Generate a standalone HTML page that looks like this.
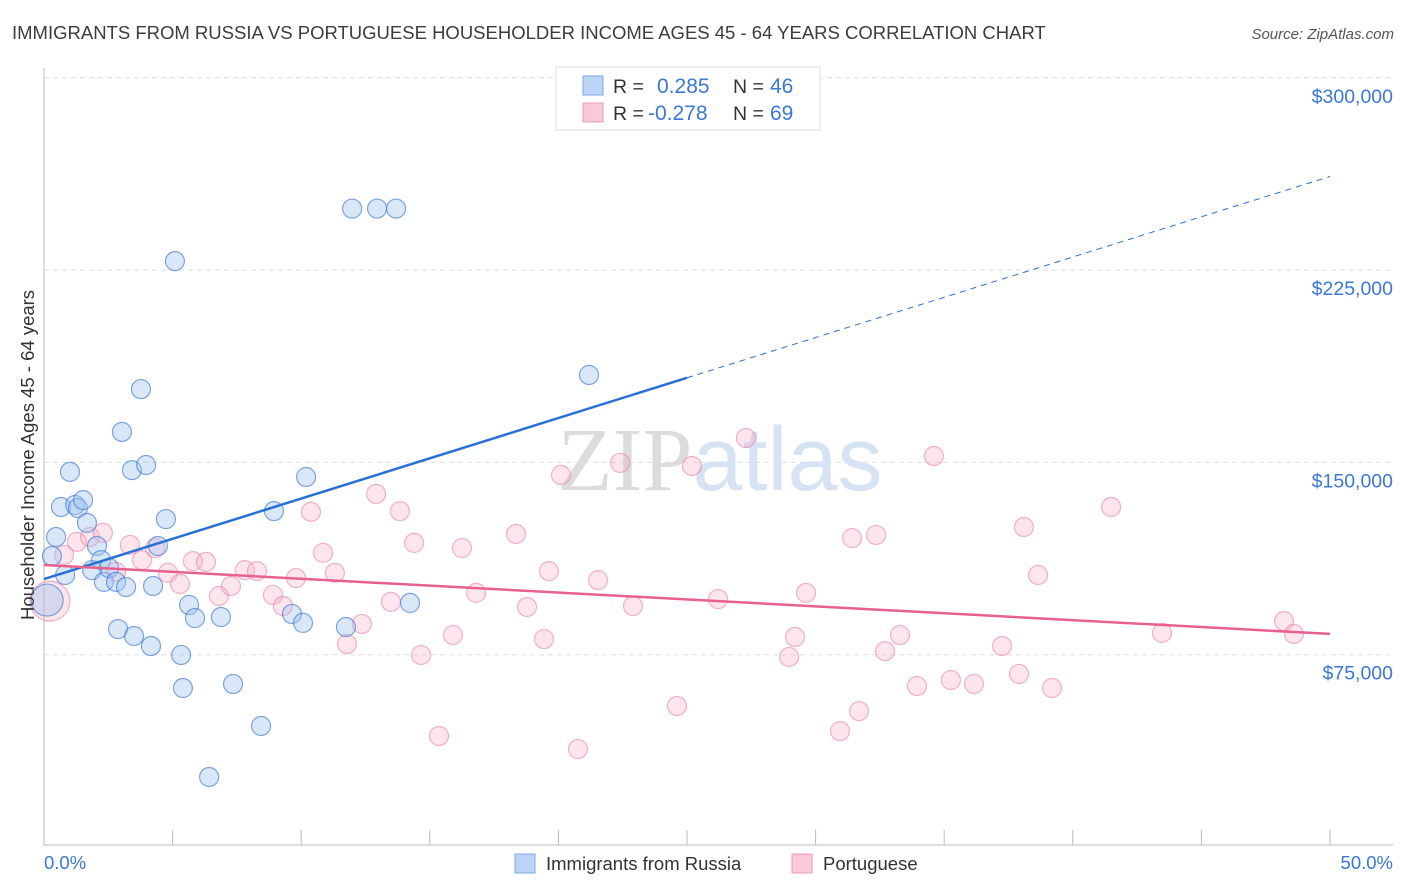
<!DOCTYPE html>
<html><head><meta charset="utf-8"><style>
body{margin:0;background:#fff;font-family:"Liberation Sans",sans-serif;}
svg{display:block}
</style></head><body>
<svg id="chart" width="1406" height="892" viewBox="0 0 1406 892" xmlns="http://www.w3.org/2000/svg">
<text x="12" y="39" font-size="18.5" fill="#3c3c3c">IMMIGRANTS FROM RUSSIA VS PORTUGUESE HOUSEHOLDER INCOME AGES 45 - 64 YEARS CORRELATION CHART</text>
<text x="1394" y="39" font-size="15" fill="#555" font-style="italic" text-anchor="end">Source: ZipAtlas.com</text>
<g id="grid"></g>
<text x="720" y="490" font-size="90" text-anchor="middle" fill="#e4e6ea"><tspan font-family="Liberation Serif" fill="#dcdcdc">ZIP</tspan><tspan fill="#d6e3f3">atlas</tspan></text>
<g id="points"></g>
<g id="lines"></g>
<text transform="translate(34,455) rotate(-90)" font-size="18.5" fill="#333" text-anchor="middle">Householder Income Ages 45 - 64 years</text>
<text x="44" y="869" font-size="18.5" fill="#3a78d4">0.0%</text>
<text x="1393" y="869" font-size="18.5" fill="#3a78d4" text-anchor="end">50.0%</text>
<g>
<rect x="556" y="67" width="264" height="63" fill="#fff" stroke="#ddd"/>
<rect x="583" y="76" width="20" height="19" fill="#bcd4f5" stroke="#7aa7e6"/>
<rect x="583" y="103" width="20" height="19" fill="#f9c9d7" stroke="#ec9ab3"/>
<text x="613" y="93" font-size="19.5" fill="#333">R = </text><text x="657" y="93" font-size="21" fill="#3a78d4">0.285</text>
<text x="733" y="93" font-size="19.5" fill="#333">N = </text><text x="770" y="93" font-size="21" fill="#3a78d4">46</text>
<text x="613" y="120" font-size="19.5" fill="#333">R = </text><text x="648" y="120" font-size="21" fill="#3a78d4">-0.278</text>
<text x="733" y="120" font-size="19.5" fill="#333">N = </text><text x="770" y="120" font-size="21" fill="#3a78d4">69</text>
</g>
<g>
<rect x="515" y="854" width="20" height="19" fill="#bcd4f5" stroke="#7aa7e6"/>
<text x="546" y="870" font-size="18.5" fill="#333">Immigrants from Russia</text>
<rect x="792" y="854" width="20" height="19" fill="#f9c9d7" stroke="#ec9ab3"/>
<text x="823" y="870" font-size="18.5" fill="#333">Portuguese</text>
</g>
</svg>
<script>
const yTicks=[75000,150000,225000,300000];
const yTickLabels=["$75,000","$150,000","$225,000","$300,000"];
const xTicks=[0,5,10,15,20,25,30,35,40,45,50];
const russiaX=[0.12,0.31,0.47,0.66,0.82,1.01,1.21,1.32,1.52,1.67,1.87,2.06,2.22,2.33,2.53,2.80,2.88,3.03,3.19,3.42,3.50,3.77,3.97,4.16,4.24,4.43,4.74,5.09,5.33,5.40,5.64,5.87,6.88,7.35,8.44,6.42,8.94,9.64,10.07,10.19,11.74,11.98,12.95,13.69,14.23,21.19];
const russiaY=[96300,113500,120900,132600,106100,146300,133400,132200,135300,126400,108000,117400,111900,103400,108800,103400,85000,161900,101400,147000,82300,178600,149000,78400,101800,117400,127900,228500,74900,62000,94400,89300,89700,63600,47200,27300,131000,90900,87400,144300,85800,249000,249000,249000,95200,184100];
const portX=[0.23,0.78,1.28,1.79,2.29,2.80,3.34,3.81,4.32,4.82,5.29,5.79,6.30,6.80,7.27,7.81,8.28,8.90,9.29,9.80,10.38,10.85,11.31,11.78,12.36,12.91,13.49,13.84,14.39,14.66,15.36,15.90,16.25,16.80,18.35,18.78,19.44,19.63,20.10,20.76,21.54,22.40,22.90,24.61,25.19,26.21,27.29,28.97,29.20,29.63,30.95,31.42,31.69,32.35,32.70,33.28,33.94,34.60,35.26,36.16,37.25,37.91,38.10,38.65,39.19,41.49,43.47,48.21,48.60];
const portY=[95900,113900,119000,120900,122500,107300,117800,111900,116600,106900,102600,111500,111200,97900,101800,108000,107600,98300,94000,104900,130700,114700,106900,79200,87000,137700,95600,131000,118600,74900,43300,82700,116600,99100,122100,93600,81100,107600,145100,38200,104100,149800,94000,55000,148600,96700,159500,74100,81900,99100,45200,120500,53000,121700,76400,82700,62800,152500,65100,63600,78400,67500,124800,106100,62000,132600,83500,88100,83100];
const russiaTrend=[104500,261500];
const portTrend=[110000,83100];
const NS='http://www.w3.org/2000/svg';
function xs(v){return 44+v/50*1286;}
function ys(v){return 847-v*0.002564;}
function mk(tag,attrs,parent){const e=document.createElementNS(NS,tag);for(const k in attrs)e.setAttribute(k,attrs[k]);parent.appendChild(e);return e;}
const grid=document.getElementById('grid');
yTicks.forEach((t,i)=>{
 const l=mk('line',{x1:44,x2:1393,y1:ys(t),y2:ys(t),stroke:'#ddd','stroke-dasharray':'5,4'},grid);
 
 
 const tx=mk('text',{x:1393,y:ys(t)+25,'font-size':19.5,fill:'#3a78d4','text-anchor':'end'},grid);
 tx.textContent=yTickLabels[i];
 
 
});
const ax=mk('line',{x1:44,x2:44,y1:68,y2:845,stroke:'#bbb'},grid);


const bx=mk('line',{x1:44,x2:1393,y1:845,y2:845,stroke:'#bbb'},grid);


xTicks.forEach(t=>{
 const l=mk('line',{x1:xs(t),x2:xs(t),y1:830,y2:845,stroke:'#bbb'},grid);
 
 
});
const pts=document.getElementById('points');
function dot(x,y,r,fill,stroke,name){
 const c=mk('circle',{cx:xs(x),cy:ys(y),r:r,fill:fill,stroke:stroke,'stroke-width':1.2},pts);
 
 
}
portX.forEach((x,i)=>dot(x,portY[i],i===0?20:9.5,'rgba(246,170,195,0.3)','rgba(232,120,155,0.55)','portuguese-point'));
russiaX.forEach((x,i)=>dot(x,russiaY[i],i===0?16:9.5,'rgba(160,195,240,0.4)','rgba(60,120,210,0.65)','russia-point'));
const lines=document.getElementById('lines');
const split=25;
const ry=x=>russiaTrend[0]+(russiaTrend[1]-russiaTrend[0])*x/50;
const py=x=>portTrend[0]+(portTrend[1]-portTrend[0])*x/50;
const l1=mk('line',{x1:xs(0),y1:ys(ry(0)),x2:xs(split),y2:ys(ry(split)),stroke:'#2a6fd6','stroke-width':2.5},lines);


const l2=mk('line',{x1:xs(split),y1:ys(ry(split)),x2:xs(50),y2:ys(ry(50)),stroke:'#2a6fd6','stroke-width':1,'stroke-dasharray':'6,5'},lines);


const l3=mk('line',{x1:xs(0),y1:ys(py(0)),x2:xs(50),y2:ys(py(50)),stroke:'#e8608e','stroke-width':2.5},lines);


</script>
</body></html>
